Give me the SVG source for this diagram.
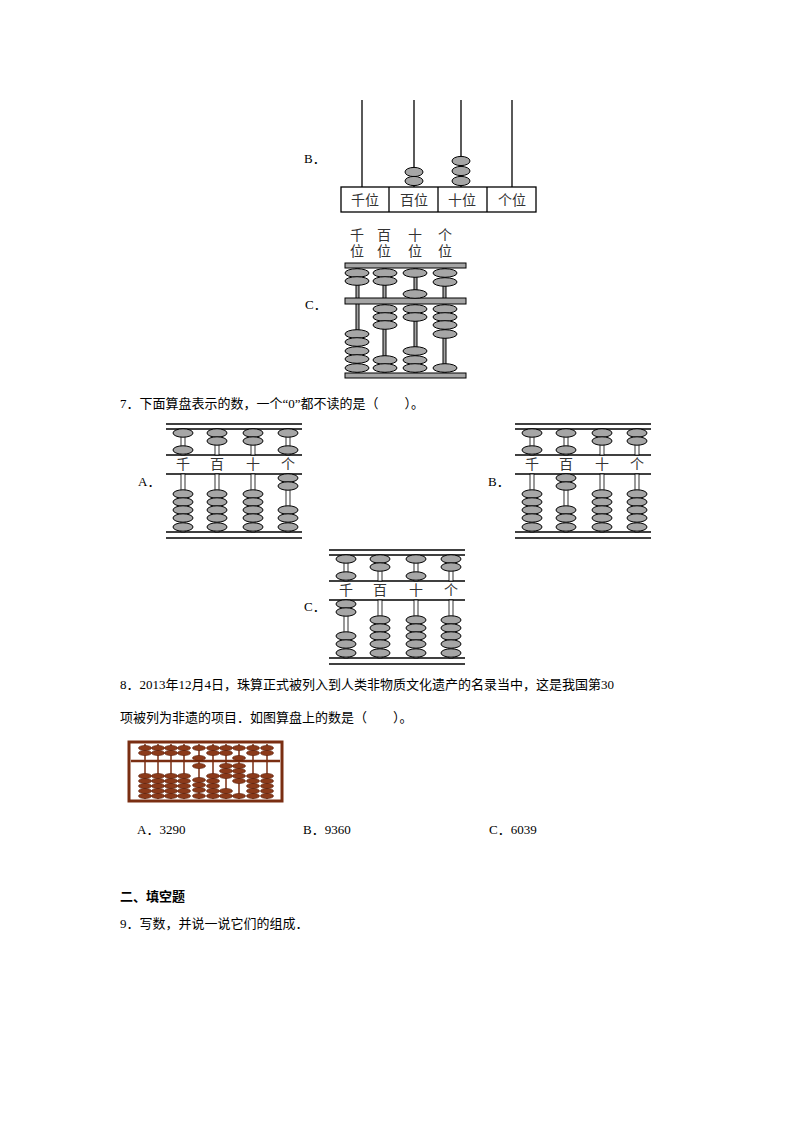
<svg xmlns="http://www.w3.org/2000/svg" xmlns:xlink="http://www.w3.org/1999/xlink" width="794" height="1123" viewBox="0 0 794 1123">
<style>
text{font-family:"Liberation Serif","Noto Sans CJK SC",serif;font-size:13px;fill:#000}
.lbl{font-size:14px;fill:#333}
.b{fill:#a6a6a6;stroke:#000;stroke-width:1}
.g{fill:#a6a6a6;stroke:#000;stroke-width:1}
.ln{stroke:#000;stroke-width:1.3;fill:none}
.rod{fill:#fff;stroke:#000;stroke-width:0.8}
.br{fill:#8b3a1a;stroke:#5a1e0a;stroke-width:0.6}
</style>
<defs>
<ellipse id="bb" rx="9" ry="4.6" class="b"/>
<ellipse id="cb" rx="12" ry="4.3" class="b"/>
<ellipse id="ab" rx="10" ry="4.2" class="b"/>
<ellipse id="rb" rx="6.5" ry="2.6" class="br"/>
<g id="frame7">
<line x1="166" y1="424" x2="302" y2="424" class="ln"/>
<line x1="166" y1="429" x2="302" y2="429" class="ln"/>
<line x1="166" y1="455" x2="302" y2="455" class="ln"/>
<line x1="166" y1="474" x2="302" y2="474" class="ln"/>
<line x1="166" y1="532" x2="302" y2="532" class="ln"/>
<line x1="166" y1="538" x2="302" y2="538" class="ln"/>
<rect x="181" y="429" width="4" height="26" class="rod"/><rect x="215" y="429" width="4" height="26" class="rod"/><rect x="251" y="429" width="4" height="26" class="rod"/><rect x="286" y="429" width="4" height="26" class="rod"/>
<rect x="181" y="474" width="4" height="58" class="rod"/><rect x="215" y="474" width="4" height="58" class="rod"/><rect x="251" y="474" width="4" height="58" class="rod"/><rect x="286" y="474" width="4" height="58" class="rod"/>
</g>
<g id="up2"><use xlink:href="#ab" y="433"/><use xlink:href="#ab" y="441"/></g>
<g id="up1"><use xlink:href="#ab" y="433"/><use xlink:href="#ab" y="450"/></g>
<g id="lo5"><use xlink:href="#ab" y="494"/><use xlink:href="#ab" y="502"/><use xlink:href="#ab" y="510"/><use xlink:href="#ab" y="518"/><use xlink:href="#ab" y="527"/></g>
<g id="lo2"><use xlink:href="#ab" y="478"/><use xlink:href="#ab" y="486"/><use xlink:href="#ab" y="510"/><use xlink:href="#ab" y="518"/><use xlink:href="#ab" y="527"/></g>
</defs>

<g id="text">
<text x="304" y="163">B．</text>
<text x="305" y="309">C．</text>
<text x="120" y="408">7．下面算盘表示的数，一个“0”都不读的是（　　）。</text>
<text x="138" y="486">A．</text>
<text x="488" y="486">B．</text>
<text x="304" y="611">C．</text>
<text x="120" y="689">8．2013年12月4日，珠算正式被列入到人类非物质文化遗产的名录当中，这是我国第30</text>
<text x="120" y="722">项被列为非遗的项目．如图算盘上的数是（　　）。</text>
<text x="137" y="834">A．3290</text>
<text x="303" y="834">B．9360</text>
<text x="489" y="834">C．6039</text>
<text x="120" y="901" font-weight="bold">二、填空题</text>
<text x="120" y="928">9．写数，并说一说它们的组成．</text>
</g>

<g id="abacusB6">
<g class="ln"><line x1="362" y1="100" x2="362" y2="187"/><line x1="414" y1="100" x2="414" y2="187"/><line x1="461" y1="100" x2="461" y2="187"/><line x1="512" y1="100" x2="512" y2="187"/></g>
<rect x="341" y="187" width="195" height="25" fill="#fff" stroke="#000" stroke-width="1.3"/>
<g class="ln"><line x1="389" y1="187" x2="389" y2="212"/><line x1="438" y1="187" x2="438" y2="212"/><line x1="487" y1="187" x2="487" y2="212"/></g>
<text x="365" y="205" text-anchor="middle" class="lbl">千位</text><text x="414" y="205" text-anchor="middle" class="lbl">百位</text><text x="462" y="205" text-anchor="middle" class="lbl">十位</text><text x="512" y="205" text-anchor="middle" class="lbl">个位</text>
<use xlink:href="#bb" x="414" y="172"/><use xlink:href="#bb" x="414" y="181"/>
<use xlink:href="#bb" x="461" y="161"/><use xlink:href="#bb" x="461" y="171"/><use xlink:href="#bb" x="461" y="181"/>
</g>

<g id="abacusC6">
<text x="357" y="240" text-anchor="middle" class="lbl">千</text><text x="357" y="256" text-anchor="middle" class="lbl">位</text>
<text x="384" y="240" text-anchor="middle" class="lbl">百</text><text x="384" y="256" text-anchor="middle" class="lbl">位</text>
<text x="415" y="240" text-anchor="middle" class="lbl">十</text><text x="415" y="256" text-anchor="middle" class="lbl">位</text>
<text x="445" y="240" text-anchor="middle" class="lbl">个</text><text x="445" y="256" text-anchor="middle" class="lbl">位</text>
<g fill="#a6a6a6" stroke="#000"><rect x="356" y="266" width="3" height="108"/><rect x="383" y="266" width="3" height="108"/><rect x="414" y="266" width="3" height="108"/><rect x="443" y="266" width="3" height="108"/></g>
<rect x="345" y="263" width="121" height="5" class="g"/>
<rect x="345" y="298" width="121" height="6" class="g"/>
<rect x="345" y="373" width="121" height="5" class="g"/>
<use xlink:href="#cb" x="357" y="273"/><use xlink:href="#cb" x="357" y="281"/>
<use xlink:href="#cb" x="385" y="273"/><use xlink:href="#cb" x="385" y="281"/>
<use xlink:href="#cb" x="415" y="273"/><use xlink:href="#cb" x="415" y="294"/>
<use xlink:href="#cb" x="445" y="273"/><use xlink:href="#cb" x="445" y="282"/>
<use xlink:href="#cb" x="357" y="334"/><use xlink:href="#cb" x="357" y="342"/><use xlink:href="#cb" x="357" y="351"/><use xlink:href="#cb" x="357" y="359"/><use xlink:href="#cb" x="357" y="368"/>
<use xlink:href="#cb" x="385" y="309"/><use xlink:href="#cb" x="385" y="317"/><use xlink:href="#cb" x="385" y="325"/><use xlink:href="#cb" x="385" y="360"/><use xlink:href="#cb" x="385" y="368"/>
<use xlink:href="#cb" x="415" y="309"/><use xlink:href="#cb" x="415" y="317"/><use xlink:href="#cb" x="415" y="351"/><use xlink:href="#cb" x="415" y="360"/><use xlink:href="#cb" x="415" y="368"/>
<use xlink:href="#cb" x="445" y="309"/><use xlink:href="#cb" x="445" y="317"/><use xlink:href="#cb" x="445" y="325"/><use xlink:href="#cb" x="445" y="334"/><use xlink:href="#cb" x="445" y="368"/>
</g>

<g id="abacus7A">
<use xlink:href="#frame7"/>
<text x="183" y="469" text-anchor="middle" class="lbl">千</text><text x="217" y="469" text-anchor="middle" class="lbl">百</text><text x="253" y="469" text-anchor="middle" class="lbl">十</text><text x="288" y="469" text-anchor="middle" class="lbl">个</text>
<use xlink:href="#up1" x="183"/><use xlink:href="#up2" x="217"/><use xlink:href="#up2" x="253"/><use xlink:href="#up1" x="288"/>
<use xlink:href="#lo5" x="183"/><use xlink:href="#lo5" x="217"/><use xlink:href="#lo5" x="253"/><use xlink:href="#lo2" x="288"/>
</g>
<g id="abacus7B" transform="translate(349,0)">
<use xlink:href="#frame7"/>
<text x="183" y="469" text-anchor="middle" class="lbl">千</text><text x="217" y="469" text-anchor="middle" class="lbl">百</text><text x="253" y="469" text-anchor="middle" class="lbl">十</text><text x="288" y="469" text-anchor="middle" class="lbl">个</text>
<use xlink:href="#up1" x="183"/><use xlink:href="#up1" x="217"/><use xlink:href="#up2" x="253"/><use xlink:href="#up2" x="288"/>
<use xlink:href="#lo5" x="183"/><use xlink:href="#lo2" x="217"/><use xlink:href="#lo5" x="253"/><use xlink:href="#lo5" x="288"/>
</g>
<g id="abacus7C" transform="translate(163,126)">
<use xlink:href="#frame7"/>
<text x="183" y="469" text-anchor="middle" class="lbl">千</text><text x="217" y="469" text-anchor="middle" class="lbl">百</text><text x="253" y="469" text-anchor="middle" class="lbl">十</text><text x="288" y="469" text-anchor="middle" class="lbl">个</text>
<use xlink:href="#up1" x="183"/><use xlink:href="#up2" x="217"/><use xlink:href="#up1" x="253"/><use xlink:href="#up2" x="288"/>
<use xlink:href="#lo2" x="183"/><use xlink:href="#lo5" x="217"/><use xlink:href="#lo5" x="253"/><use xlink:href="#lo5" x="288"/>
</g>

<g id="abacus8">
<rect x="129" y="742" width="153" height="59" fill="#fff" stroke="#7a2e12" stroke-width="3"/>
<line x1="131" y1="761" x2="280" y2="761" stroke="#7a2e12" stroke-width="2.5"/>
<g stroke="#7a2e12" stroke-width="1.5"><line x1="145" y1="744" x2="145" y2="799"/><line x1="158" y1="744" x2="158" y2="799"/><line x1="171" y1="744" x2="171" y2="799"/><line x1="184" y1="744" x2="184" y2="799"/><line x1="199" y1="744" x2="199" y2="799"/><line x1="213" y1="744" x2="213" y2="799"/><line x1="226" y1="744" x2="226" y2="799"/><line x1="239" y1="744" x2="239" y2="799"/><line x1="253" y1="744" x2="253" y2="799"/><line x1="267" y1="744" x2="267" y2="799"/></g>
<g id="cols">
<use xlink:href="#rb" x="145" y="748"/><use xlink:href="#rb" x="145" y="753"/><use xlink:href="#rb" x="145" y="776"/><use xlink:href="#rb" x="145" y="781"/><use xlink:href="#rb" x="145" y="786"/><use xlink:href="#rb" x="145" y="791"/><use xlink:href="#rb" x="145" y="796"/>
<use xlink:href="#rb" x="158" y="748"/><use xlink:href="#rb" x="158" y="753"/><use xlink:href="#rb" x="158" y="776"/><use xlink:href="#rb" x="158" y="781"/><use xlink:href="#rb" x="158" y="786"/><use xlink:href="#rb" x="158" y="791"/><use xlink:href="#rb" x="158" y="796"/>
<use xlink:href="#rb" x="171" y="748"/><use xlink:href="#rb" x="171" y="753"/><use xlink:href="#rb" x="171" y="776"/><use xlink:href="#rb" x="171" y="781"/><use xlink:href="#rb" x="171" y="786"/><use xlink:href="#rb" x="171" y="791"/><use xlink:href="#rb" x="171" y="796"/>
<use xlink:href="#rb" x="184" y="748"/><use xlink:href="#rb" x="184" y="753"/><use xlink:href="#rb" x="184" y="776"/><use xlink:href="#rb" x="184" y="781"/><use xlink:href="#rb" x="184" y="786"/><use xlink:href="#rb" x="184" y="791"/><use xlink:href="#rb" x="184" y="796"/>
<use xlink:href="#rb" x="199" y="748"/><use xlink:href="#rb" x="199" y="758"/><use xlink:href="#rb" x="199" y="766"/><use xlink:href="#rb" x="199" y="780"/><use xlink:href="#rb" x="199" y="785"/><use xlink:href="#rb" x="199" y="790"/><use xlink:href="#rb" x="199" y="796"/>
<use xlink:href="#rb" x="213" y="748"/><use xlink:href="#rb" x="213" y="753"/><use xlink:href="#rb" x="213" y="776"/><use xlink:href="#rb" x="213" y="781"/><use xlink:href="#rb" x="213" y="786"/><use xlink:href="#rb" x="213" y="791"/><use xlink:href="#rb" x="213" y="796"/>
<use xlink:href="#rb" x="226" y="748"/><use xlink:href="#rb" x="226" y="753"/><use xlink:href="#rb" x="226" y="766"/><use xlink:href="#rb" x="226" y="771"/><use xlink:href="#rb" x="226" y="776"/><use xlink:href="#rb" x="226" y="796"/><use xlink:href="#rb" x="226" y="791"/>
<use xlink:href="#rb" x="239" y="748"/><use xlink:href="#rb" x="239" y="758"/><use xlink:href="#rb" x="239" y="766"/><use xlink:href="#rb" x="239" y="771"/><use xlink:href="#rb" x="239" y="776"/><use xlink:href="#rb" x="239" y="781"/><use xlink:href="#rb" x="239" y="796"/>
<use xlink:href="#rb" x="253" y="748"/><use xlink:href="#rb" x="253" y="753"/><use xlink:href="#rb" x="253" y="776"/><use xlink:href="#rb" x="253" y="781"/><use xlink:href="#rb" x="253" y="786"/><use xlink:href="#rb" x="253" y="791"/><use xlink:href="#rb" x="253" y="796"/>
<use xlink:href="#rb" x="267" y="748"/><use xlink:href="#rb" x="267" y="753"/><use xlink:href="#rb" x="267" y="776"/><use xlink:href="#rb" x="267" y="781"/><use xlink:href="#rb" x="267" y="786"/><use xlink:href="#rb" x="267" y="791"/><use xlink:href="#rb" x="267" y="796"/>
</g>
</g>
</svg>
